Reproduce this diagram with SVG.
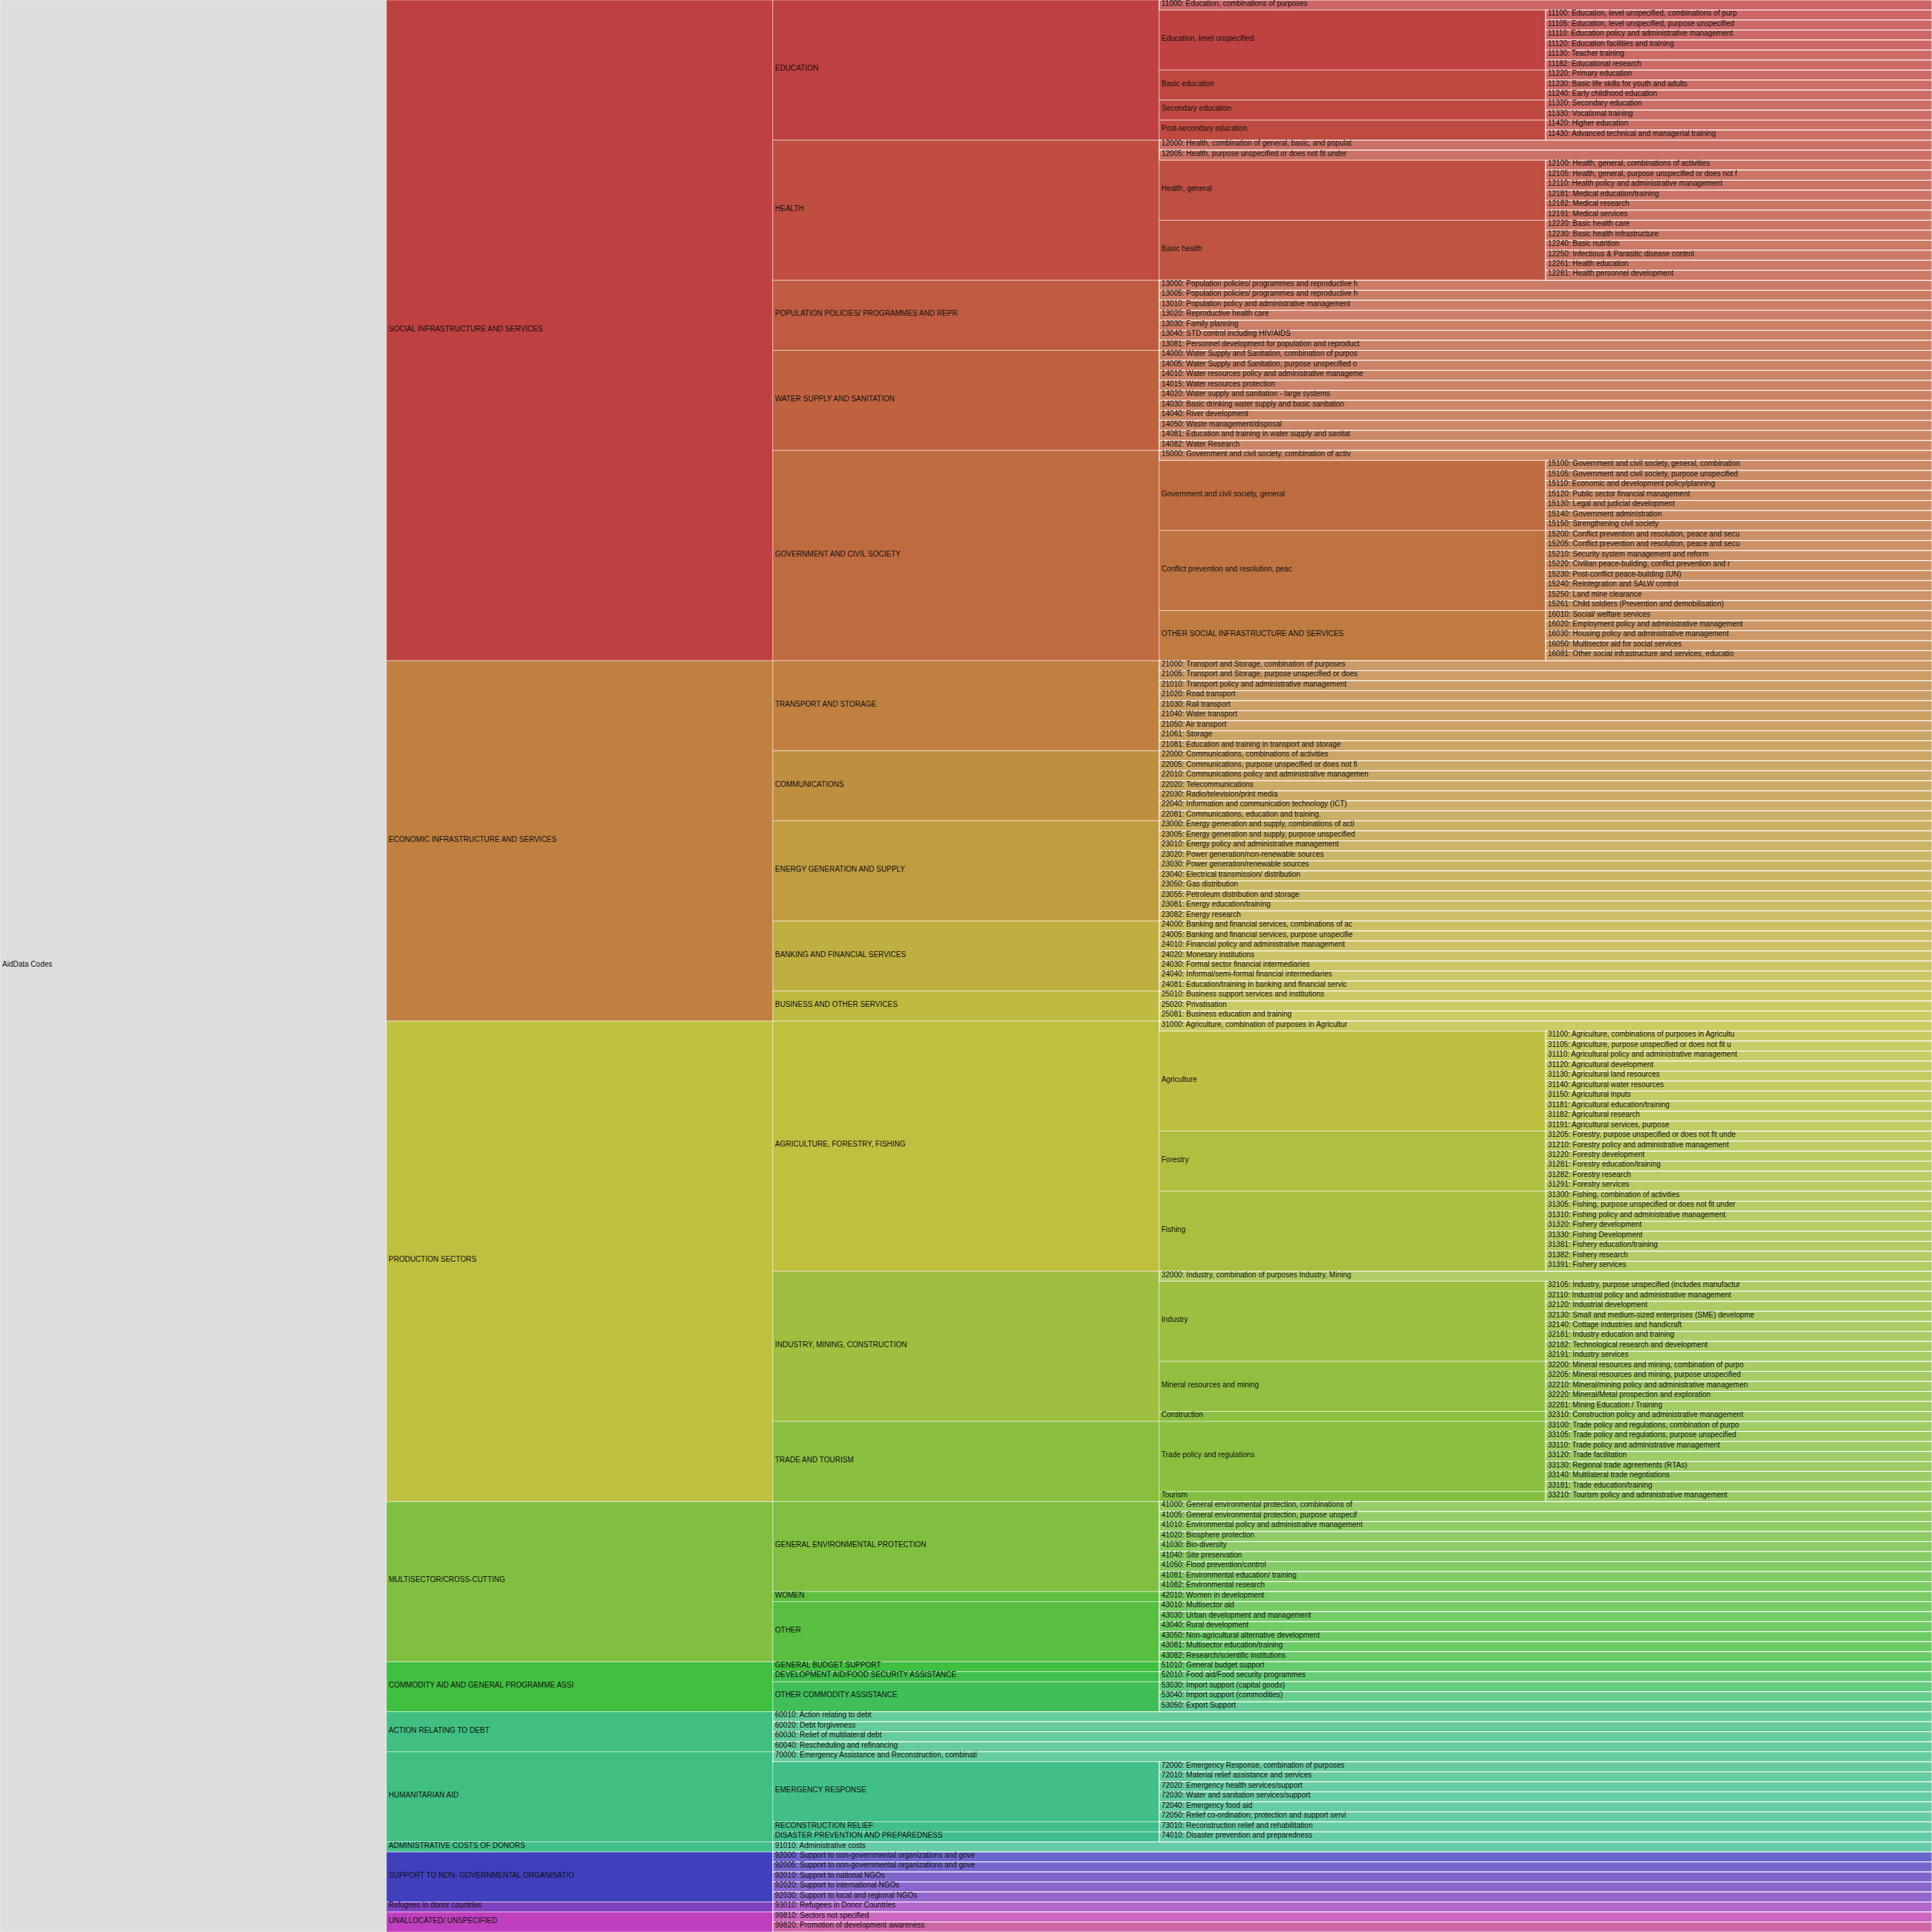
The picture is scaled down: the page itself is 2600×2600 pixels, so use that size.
<svg xmlns="http://www.w3.org/2000/svg" width="2600" height="2600" viewBox="0 0 2600 2600">
<style>
text{font-family:"Liberation Sans",Arial,sans-serif;font-size:10px;fill:#111}
.n>rect{stroke:rgba(255,255,255,0.5);stroke-width:1}
.l>rect{stroke:#fff;stroke-width:1}
</style>
<rect width="2600" height="2600" fill="#fff"/>
<g id="col0">
<g id="root" class="n"><rect width="520" height="2600" fill="#dddddd"/><text x="3" y="1301">AidData Codes</text></g>
</g>
<g id="col1">
<g id="c-social" class="n" transform="translate(520,0)"><rect width="520" height="889.12" fill="hsl(0,50%,50%)"/><text x="3" y="445.56">SOCIAL INFRASTRUCTURE AND SERVICES</text></g>
<g id="c-economic" class="n" transform="translate(520,889.12)"><rect width="520" height="484.97" fill="hsl(30,50%,50%)"/><text x="3" y="243.49">ECONOMIC INFRASTRUCTURE AND SERVICES</text></g>
<g id="c-production" class="n" transform="translate(520,1374.09)"><rect width="520" height="646.63" fill="hsl(60,50%,50%)"/><text x="3" y="324.32">PRODUCTION SECTORS</text></g>
<g id="c-multisector" class="n" transform="translate(520,2020.73)"><rect width="520" height="215.54" fill="hsl(90,50%,50%)"/><text x="3" y="108.77">MULTISECTOR/CROSS-CUTTING</text></g>
<g id="c-commodity" class="n" transform="translate(520,2236.27)"><rect width="520" height="67.36" fill="hsl(120,50%,50%)"/><text x="3" y="34.68">COMMODITY AID AND GENERAL PROGRAMME ASSI</text></g>
<g id="c-debt" class="n" transform="translate(520,2303.63)"><rect width="520" height="53.89" fill="hsl(150,50%,50%)"/><text x="3" y="27.94">ACTION RELATING TO DEBT</text></g>
<g id="c-humanitarian" class="n" transform="translate(520,2357.51)"><rect width="520" height="121.24" fill="hsl(151,50%,50%)"/><text x="3" y="61.62">HUMANITARIAN AID</text></g>
<g id="c-admin" class="n" transform="translate(520,2478.76)"><rect width="520" height="13.47" fill="hsl(155,50%,50%)"/><text x="3" y="7.74">ADMINISTRATIVE COSTS OF DONORS</text></g>
<g id="c-ngo" class="n" transform="translate(520,2492.23)"><rect width="520" height="67.36" fill="hsl(240,50%,50%)"/><text x="3" y="34.68">SUPPORT TO NON- GOVERNMENTAL ORGANISATIO</text></g>
<g id="c-refugees" class="n" transform="translate(520,2559.59)"><rect width="520" height="13.47" fill="hsl(270,50%,50%)"/><text x="3" y="7.74">Refugees in donor countries</text></g>
<g id="c-unallocated" class="n" transform="translate(520,2573.06)"><rect width="520" height="26.94" fill="hsl(300,50%,50%)"/><text x="3" y="14.47">UNALLOCATED/ UNSPECIFIED</text></g>
</g>
<g id="col2">
<g id="s-education" class="n" transform="translate(1040,0)"><rect width="520" height="188.6" fill="hsl(0,50%,50%)"/><text x="3" y="95.3">EDUCATION</text></g>
<g id="s-health" class="n" transform="translate(1040,188.6)"><rect width="520" height="188.6" fill="hsl(6.4,50%,50%)"/><text x="3" y="95.3">HEALTH</text></g>
<g id="s-population" class="n" transform="translate(1040,377.2)"><rect width="520" height="94.3" fill="hsl(12.7,50%,50%)"/><text x="3" y="48.15">POPULATION POLICIES/ PROGRAMMES AND REPR</text></g>
<g id="s-water" class="n" transform="translate(1040,471.5)"><rect width="520" height="134.72" fill="hsl(15.9,50%,50%)"/><text x="3" y="68.36">WATER SUPPLY AND SANITATION</text></g>
<g id="s-government" class="n" transform="translate(1040,606.22)"><rect width="520" height="282.9" fill="hsl(20.5,50%,50%)"/><text x="3" y="142.45">GOVERNMENT AND CIVIL SOCIETY</text></g>
<g id="s-transport" class="n" transform="translate(1040,889.12)"><rect width="520" height="121.24" fill="hsl(30,50%,50%)"/><text x="3" y="61.62">TRANSPORT AND STORAGE</text></g>
<g id="s-communications" class="n" transform="translate(1040,1010.36)"><rect width="520" height="94.3" fill="hsl(37.5,50%,50%)"/><text x="3" y="48.15">COMMUNICATIONS</text></g>
<g id="s-energy" class="n" transform="translate(1040,1104.66)"><rect width="520" height="134.72" fill="hsl(43.3,50%,50%)"/><text x="3" y="68.36">ENERGY GENERATION AND SUPPLY</text></g>
<g id="s-banking" class="n" transform="translate(1040,1239.38)"><rect width="520" height="94.3" fill="hsl(51.7,50%,50%)"/><text x="3" y="48.15">BANKING AND FINANCIAL SERVICES</text></g>
<g id="s-business" class="n" transform="translate(1040,1333.68)"><rect width="520" height="40.41" fill="hsl(57.5,50%,50%)"/><text x="3" y="21.21">BUSINESS AND OTHER SERVICES</text></g>
<g id="s-agriculture" class="n" transform="translate(1040,1374.09)"><rect width="520" height="336.79" fill="hsl(60,50%,50%)"/><text x="3" y="169.39">AGRICULTURE, FORESTRY, FISHING</text></g>
<g id="s-industry" class="n" transform="translate(1040,1710.88)"><rect width="520" height="202.07" fill="hsl(75.6,50%,50%)"/><text x="3" y="102.04">INDUSTRY, MINING, CONSTRUCTION</text></g>
<g id="s-trade" class="n" transform="translate(1040,1912.95)"><rect width="520" height="107.77" fill="hsl(85,50%,50%)"/><text x="3" y="54.89">TRADE AND TOURISM</text></g>
<g id="s-environment" class="n" transform="translate(1040,2020.73)"><rect width="520" height="121.24" fill="hsl(90,50%,50%)"/><text x="3" y="61.62">GENERAL ENVIRONMENTAL PROTECTION</text></g>
<g id="s-women" class="n" transform="translate(1040,2141.97)"><rect width="520" height="13.47" fill="hsl(106.9,50%,50%)"/><text x="3" y="7.74">WOMEN</text></g>
<g id="s-other" class="n" transform="translate(1040,2155.44)"><rect width="520" height="80.83" fill="hsl(108.75,50%,50%)"/><text x="3" y="41.41">OTHER</text></g>
<g id="s-budget" class="n" transform="translate(1040,2236.27)"><rect width="520" height="13.47" fill="hsl(120,50%,50%)"/><text x="3" y="7.74">GENERAL BUDGET SUPPORT</text></g>
<g id="s-foodaid" class="n" transform="translate(1040,2249.74)"><rect width="520" height="13.47" fill="hsl(126,50%,50%)"/><text x="3" y="7.74">DEVELOPMENT AID/FOOD SECURITY ASSISTANCE</text></g>
<g id="s-othercommodity" class="n" transform="translate(1040,2263.21)"><rect width="520" height="40.41" fill="hsl(132,50%,50%)"/><text x="3" y="21.21">OTHER COMMODITY ASSISTANCE</text></g>
<g id="l60010" class="l" transform="translate(1040,2303.63)"><rect width="1560" height="13.47" fill="hsl(150,50%,60%)"/><text x="3" y="7.74">60010: Action relating to debt</text></g>
<g id="l60020" class="l" transform="translate(1040,2317.1)"><rect width="1560" height="13.47" fill="hsl(150.8,50%,60%)"/><text x="3" y="7.74">60020: Debt forgiveness</text></g>
<g id="l60030" class="l" transform="translate(1040,2330.57)"><rect width="1560" height="13.47" fill="hsl(151.5,50%,60%)"/><text x="3" y="7.74">60030: Relief of multilateral debt</text></g>
<g id="l60040" class="l" transform="translate(1040,2344.04)"><rect width="1560" height="13.47" fill="hsl(152.2,50%,60%)"/><text x="3" y="7.74">60040: Rescheduling and refinancing</text></g>
<g id="l70000" class="l" transform="translate(1040,2357.51)"><rect width="1560" height="13.47" fill="hsl(153,50%,60%)"/><text x="3" y="7.74">70000: Emergency Assistance and Reconstruction, combinati</text></g>
<g id="s-emergency" class="n" transform="translate(1040,2370.98)"><rect width="520" height="80.83" fill="hsl(153,50%,50%)"/><text x="3" y="41.41">EMERGENCY RESPONSE</text></g>
<g id="s-reconstruction" class="n" transform="translate(1040,2451.81)"><rect width="520" height="13.47" fill="hsl(155,50%,50%)"/><text x="3" y="7.74">RECONSTRUCTION RELIEF</text></g>
<g id="s-disaster" class="n" transform="translate(1040,2465.28)"><rect width="520" height="13.47" fill="hsl(156,50%,50%)"/><text x="3" y="7.74">DISASTER PREVENTION AND PREPAREDNESS</text></g>
<g id="l91010" class="l" transform="translate(1040,2478.76)"><rect width="1560" height="13.47" fill="hsl(158,50%,60%)"/><text x="3" y="7.74">91010: Administrative costs</text></g>
<g id="l92000" class="l" transform="translate(1040,2492.23)"><rect width="1560" height="13.47" fill="hsl(243,50%,60%)"/><text x="3" y="7.74">92000: Support to non-governmental organizations and gove</text></g>
<g id="l92005" class="l" transform="translate(1040,2505.7)"><rect width="1560" height="13.47" fill="hsl(249,50%,60%)"/><text x="3" y="7.74">92005: Support to non-governmental organizations and gove</text></g>
<g id="l92010" class="l" transform="translate(1040,2519.17)"><rect width="1560" height="13.47" fill="hsl(255,50%,60%)"/><text x="3" y="7.74">92010: Support to national NGOs</text></g>
<g id="l92020" class="l" transform="translate(1040,2532.64)"><rect width="1560" height="13.47" fill="hsl(261,50%,60%)"/><text x="3" y="7.74">92020: Support to international NGOs</text></g>
<g id="l92030" class="l" transform="translate(1040,2546.11)"><rect width="1560" height="13.47" fill="hsl(267,50%,60%)"/><text x="3" y="7.74">92030: Support to local and regional NGOs</text></g>
<g id="l93010" class="l" transform="translate(1040,2559.59)"><rect width="1560" height="13.47" fill="hsl(285,50%,60%)"/><text x="3" y="7.74">93010: Refugees in Donor Countries</text></g>
<g id="l99810" class="l" transform="translate(1040,2573.06)"><rect width="1560" height="13.47" fill="hsl(307.5,50%,60%)"/><text x="3" y="7.74">99810: Sectors not specified</text></g>
<g id="l99820" class="l" transform="translate(1040,2586.53)"><rect width="1560" height="13.47" fill="hsl(322.5,50%,60%)"/><text x="3" y="7.74">99820: Promotion of development awareness</text></g>
</g>
<g id="col3">
<g id="l11000" class="l" transform="translate(1560,0)"><rect width="1040" height="13.47" fill="hsl(0.2,50%,60%)"/><text x="3" y="7.74">11000: Education, combinations of purposes</text></g>
<g id="t-edu-unspec" class="n" transform="translate(1560,13.47)"><rect width="520" height="80.83" fill="hsl(0.45,50%,50%)"/><text x="3" y="41.41">Education, level unspecified</text></g>
<g id="t-edu-basic" class="n" transform="translate(1560,94.3)"><rect width="520" height="40.41" fill="hsl(3.2,50%,50%)"/><text x="3" y="21.21">Basic education</text></g>
<g id="t-edu-secondary" class="n" transform="translate(1560,134.72)"><rect width="520" height="26.94" fill="hsl(4.5,50%,50%)"/><text x="3" y="14.47">Secondary education</text></g>
<g id="t-edu-post" class="n" transform="translate(1560,161.66)"><rect width="520" height="26.94" fill="hsl(5.45,50%,50%)"/><text x="3" y="14.47">Post-secondary education</text></g>
<g id="l12000" class="l" transform="translate(1560,188.6)"><rect width="1040" height="13.47" fill="hsl(6.6,50%,60%)"/><text x="3" y="7.74">12000: Health, combination of general, basic, and populat</text></g>
<g id="l12005" class="l" transform="translate(1560,202.07)"><rect width="1040" height="13.47" fill="hsl(7,50%,60%)"/><text x="3" y="7.74">12005: Health, purpose unspecified or does not fit under</text></g>
<g id="t-health-general" class="n" transform="translate(1560,215.54)"><rect width="520" height="80.83" fill="hsl(7.3,50%,50%)"/><text x="3" y="41.41">Health, general</text></g>
<g id="t-health-basic" class="n" transform="translate(1560,296.37)"><rect width="520" height="80.83" fill="hsl(10,50%,50%)"/><text x="3" y="41.41">Basic health</text></g>
<g id="l13000" class="l" transform="translate(1560,377.2)"><rect width="1040" height="13.47" fill="hsl(12.95,50%,60%)"/><text x="3" y="7.74">13000: Population policies/ programmes and reproductive h</text></g>
<g id="l13005" class="l" transform="translate(1560,390.67)"><rect width="1040" height="13.47" fill="hsl(13.4,50%,60%)"/><text x="3" y="7.74">13005: Population policies/ programmes and reproductive h</text></g>
<g id="l13010" class="l" transform="translate(1560,404.15)"><rect width="1040" height="13.47" fill="hsl(13.9,50%,60%)"/><text x="3" y="7.74">13010: Population policy and administrative management</text></g>
<g id="l13020" class="l" transform="translate(1560,417.62)"><rect width="1040" height="13.47" fill="hsl(14.3,50%,60%)"/><text x="3" y="7.74">13020: Reproductive health care</text></g>
<g id="l13030" class="l" transform="translate(1560,431.09)"><rect width="1040" height="13.47" fill="hsl(14.8,50%,60%)"/><text x="3" y="7.74">13030: Family planning</text></g>
<g id="l13040" class="l" transform="translate(1560,444.56)"><rect width="1040" height="13.47" fill="hsl(15.2,50%,60%)"/><text x="3" y="7.74">13040: STD control including HIV/AIDS</text></g>
<g id="l13081" class="l" transform="translate(1560,458.03)"><rect width="1040" height="13.47" fill="hsl(15.7,50%,60%)"/><text x="3" y="7.74">13081: Personnel development for population and reproduct</text></g>
<g id="l14000" class="l" transform="translate(1560,471.5)"><rect width="1040" height="13.47" fill="hsl(16.1,50%,60%)"/><text x="3" y="7.74">14000: Water Supply and Sanitation, combination of purpos</text></g>
<g id="l14005" class="l" transform="translate(1560,484.97)"><rect width="1040" height="13.47" fill="hsl(16.6,50%,60%)"/><text x="3" y="7.74">14005: Water Supply and Sanitation, purpose unspecified o</text></g>
<g id="l14010" class="l" transform="translate(1560,498.45)"><rect width="1040" height="13.47" fill="hsl(17,50%,60%)"/><text x="3" y="7.74">14010: Water resources policy and administrative manageme</text></g>
<g id="l14015" class="l" transform="translate(1560,511.92)"><rect width="1040" height="13.47" fill="hsl(17.5,50%,60%)"/><text x="3" y="7.74">14015: Water resources protection</text></g>
<g id="l14020" class="l" transform="translate(1560,525.39)"><rect width="1040" height="13.47" fill="hsl(17.95,50%,60%)"/><text x="3" y="7.74">14020: Water supply and sanitation - large systems</text></g>
<g id="l14030" class="l" transform="translate(1560,538.86)"><rect width="1040" height="13.47" fill="hsl(18.4,50%,60%)"/><text x="3" y="7.74">14030: Basic drinking water supply and basic sanitation</text></g>
<g id="l14040" class="l" transform="translate(1560,552.33)"><rect width="1040" height="13.47" fill="hsl(18.9,50%,60%)"/><text x="3" y="7.74">14040: River development</text></g>
<g id="l14050" class="l" transform="translate(1560,565.8)"><rect width="1040" height="13.47" fill="hsl(19.3,50%,60%)"/><text x="3" y="7.74">14050: Waste management/disposal</text></g>
<g id="l14081" class="l" transform="translate(1560,579.27)"><rect width="1040" height="13.47" fill="hsl(19.8,50%,60%)"/><text x="3" y="7.74">14081: Education and training in water supply and sanitat</text></g>
<g id="l14082" class="l" transform="translate(1560,592.75)"><rect width="1040" height="13.47" fill="hsl(20.2,50%,60%)"/><text x="3" y="7.74">14082: Water Research</text></g>
<g id="l15000" class="l" transform="translate(1560,606.22)"><rect width="1040" height="13.47" fill="hsl(20.7,50%,60%)"/><text x="3" y="7.74">15000: Government and civil society, combination of activ</text></g>
<g id="t-gov-general" class="n" transform="translate(1560,619.69)"><rect width="520" height="94.3" fill="hsl(20.9,50%,50%)"/><text x="3" y="48.15">Government and civil society, general</text></g>
<g id="t-conflict" class="n" transform="translate(1560,713.99)"><rect width="520" height="107.77" fill="hsl(24.1,50%,50%)"/><text x="3" y="54.89">Conflict prevention and resolution, peac</text></g>
<g id="t-other-social" class="n" transform="translate(1560,821.76)"><rect width="520" height="67.36" fill="hsl(27.7,50%,50%)"/><text x="3" y="34.68">OTHER SOCIAL INFRASTRUCTURE AND SERVICES</text></g>
<g id="l21000" class="l" transform="translate(1560,889.12)"><rect width="1040" height="13.47" fill="hsl(30.4,50%,60%)"/><text x="3" y="7.74">21000: Transport and Storage, combination of purposes</text></g>
<g id="l21005" class="l" transform="translate(1560,902.59)"><rect width="1040" height="13.47" fill="hsl(31.25,50%,60%)"/><text x="3" y="7.74">21005: Transport and Storage, purpose unspecified or does</text></g>
<g id="l21010" class="l" transform="translate(1560,916.06)"><rect width="1040" height="13.47" fill="hsl(32.1,50%,60%)"/><text x="3" y="7.74">21010: Transport policy and administrative management</text></g>
<g id="l21020" class="l" transform="translate(1560,929.53)"><rect width="1040" height="13.47" fill="hsl(32.9,50%,60%)"/><text x="3" y="7.74">21020: Road transport</text></g>
<g id="l21030" class="l" transform="translate(1560,943.01)"><rect width="1040" height="13.47" fill="hsl(33.75,50%,60%)"/><text x="3" y="7.74">21030: Rail transport</text></g>
<g id="l21040" class="l" transform="translate(1560,956.48)"><rect width="1040" height="13.47" fill="hsl(34.6,50%,60%)"/><text x="3" y="7.74">21040: Water transport</text></g>
<g id="l21050" class="l" transform="translate(1560,969.95)"><rect width="1040" height="13.47" fill="hsl(35.4,50%,60%)"/><text x="3" y="7.74">21050: Air transport</text></g>
<g id="l21061" class="l" transform="translate(1560,983.42)"><rect width="1040" height="13.47" fill="hsl(36.25,50%,60%)"/><text x="3" y="7.74">21061: Storage</text></g>
<g id="l21081" class="l" transform="translate(1560,996.89)"><rect width="1040" height="13.47" fill="hsl(37.1,50%,60%)"/><text x="3" y="7.74">21081: Education and training in transport and storage</text></g>
<g id="l22000" class="l" transform="translate(1560,1010.36)"><rect width="1040" height="13.47" fill="hsl(37.9,50%,60%)"/><text x="3" y="7.74">22000: Communications, combinations of activities</text></g>
<g id="l22005" class="l" transform="translate(1560,1023.83)"><rect width="1040" height="13.47" fill="hsl(38.75,50%,60%)"/><text x="3" y="7.74">22005: Communications, purpose unspecified or does not fi</text></g>
<g id="l22010" class="l" transform="translate(1560,1037.31)"><rect width="1040" height="13.47" fill="hsl(39.6,50%,60%)"/><text x="3" y="7.74">22010: Communications policy and administrative managemen</text></g>
<g id="l22020" class="l" transform="translate(1560,1050.78)"><rect width="1040" height="13.47" fill="hsl(40.4,50%,60%)"/><text x="3" y="7.74">22020: Telecommunications</text></g>
<g id="l22030" class="l" transform="translate(1560,1064.25)"><rect width="1040" height="13.47" fill="hsl(41.25,50%,60%)"/><text x="3" y="7.74">22030: Radio/television/print media</text></g>
<g id="l22040" class="l" transform="translate(1560,1077.72)"><rect width="1040" height="13.47" fill="hsl(42.1,50%,60%)"/><text x="3" y="7.74">22040: Information and communication technology (ICT)</text></g>
<g id="l22081" class="l" transform="translate(1560,1091.19)"><rect width="1040" height="13.47" fill="hsl(42.9,50%,60%)"/><text x="3" y="7.74">22081: Communications, education and training.</text></g>
<g id="l23000" class="l" transform="translate(1560,1104.66)"><rect width="1040" height="13.47" fill="hsl(43.75,50%,60%)"/><text x="3" y="7.74">23000: Energy generation and supply, combinations of acti</text></g>
<g id="l23005" class="l" transform="translate(1560,1118.13)"><rect width="1040" height="13.47" fill="hsl(44.6,50%,60%)"/><text x="3" y="7.74">23005: Energy generation and supply, purpose unspecified</text></g>
<g id="l23010" class="l" transform="translate(1560,1131.61)"><rect width="1040" height="13.47" fill="hsl(45.4,50%,60%)"/><text x="3" y="7.74">23010: Energy policy and administrative management</text></g>
<g id="l23020" class="l" transform="translate(1560,1145.08)"><rect width="1040" height="13.47" fill="hsl(46.25,50%,60%)"/><text x="3" y="7.74">23020: Power generation/non-renewable sources</text></g>
<g id="l23030" class="l" transform="translate(1560,1158.55)"><rect width="1040" height="13.47" fill="hsl(47.1,50%,60%)"/><text x="3" y="7.74">23030: Power generation/renewable sources</text></g>
<g id="l23040" class="l" transform="translate(1560,1172.02)"><rect width="1040" height="13.47" fill="hsl(47.9,50%,60%)"/><text x="3" y="7.74">23040: Electrical transmission/ distribution</text></g>
<g id="l23050" class="l" transform="translate(1560,1185.49)"><rect width="1040" height="13.47" fill="hsl(48.75,50%,60%)"/><text x="3" y="7.74">23050: Gas distribution</text></g>
<g id="l23055" class="l" transform="translate(1560,1198.96)"><rect width="1040" height="13.47" fill="hsl(49.6,50%,60%)"/><text x="3" y="7.74">23055: Petroleum distribution and storage</text></g>
<g id="l23081" class="l" transform="translate(1560,1212.44)"><rect width="1040" height="13.47" fill="hsl(50.4,50%,60%)"/><text x="3" y="7.74">23081: Energy education/training</text></g>
<g id="l23082" class="l" transform="translate(1560,1225.91)"><rect width="1040" height="13.47" fill="hsl(51.25,50%,60%)"/><text x="3" y="7.74">23082: Energy research</text></g>
<g id="l24000" class="l" transform="translate(1560,1239.38)"><rect width="1040" height="13.47" fill="hsl(52.1,50%,60%)"/><text x="3" y="7.74">24000: Banking and financial services, combinations of ac</text></g>
<g id="l24005" class="l" transform="translate(1560,1252.85)"><rect width="1040" height="13.47" fill="hsl(52.9,50%,60%)"/><text x="3" y="7.74">24005: Banking and financial services, purpose unspecifie</text></g>
<g id="l24010" class="l" transform="translate(1560,1266.32)"><rect width="1040" height="13.47" fill="hsl(53.75,50%,60%)"/><text x="3" y="7.74">24010: Financial policy and administrative management</text></g>
<g id="l24020" class="l" transform="translate(1560,1279.79)"><rect width="1040" height="13.47" fill="hsl(54.6,50%,60%)"/><text x="3" y="7.74">24020: Monetary institutions</text></g>
<g id="l24030" class="l" transform="translate(1560,1293.26)"><rect width="1040" height="13.47" fill="hsl(55.4,50%,60%)"/><text x="3" y="7.74">24030: Formal sector financial intermediaries</text></g>
<g id="l24040" class="l" transform="translate(1560,1306.74)"><rect width="1040" height="13.47" fill="hsl(56.25,50%,60%)"/><text x="3" y="7.74">24040: Informal/semi-formal financial intermediaries</text></g>
<g id="l24081" class="l" transform="translate(1560,1320.21)"><rect width="1040" height="13.47" fill="hsl(57.1,50%,60%)"/><text x="3" y="7.74">24081: Education/training in banking and financial servic</text></g>
<g id="l25010" class="l" transform="translate(1560,1333.68)"><rect width="1040" height="13.47" fill="hsl(57.9,50%,60%)"/><text x="3" y="7.74">25010: Business support services and institutions</text></g>
<g id="l25020" class="l" transform="translate(1560,1347.15)"><rect width="1040" height="13.47" fill="hsl(58.75,50%,60%)"/><text x="3" y="7.74">25020: Privatisation</text></g>
<g id="l25081" class="l" transform="translate(1560,1360.62)"><rect width="1040" height="13.47" fill="hsl(59.6,50%,60%)"/><text x="3" y="7.74">25081: Business education and training</text></g>
<g id="l31000" class="l" transform="translate(1560,1374.09)"><rect width="1040" height="13.47" fill="hsl(60.3,50%,60%)"/><text x="3" y="7.74">31000: Agriculture, combination of purposes in Agricultur</text></g>
<g id="t-agriculture" class="n" transform="translate(1560,1387.56)"><rect width="520" height="134.72" fill="hsl(60.6,50%,50%)"/><text x="3" y="68.36">Agriculture</text></g>
<g id="t-forestry" class="n" transform="translate(1560,1522.28)"><rect width="520" height="80.83" fill="hsl(66.9,50%,50%)"/><text x="3" y="41.41">Forestry</text></g>
<g id="t-fishing" class="n" transform="translate(1560,1603.11)"><rect width="520" height="107.77" fill="hsl(70.6,50%,50%)"/><text x="3" y="54.89">Fishing</text></g>
<g id="l32000" class="l" transform="translate(1560,1710.88)"><rect width="1040" height="13.47" fill="hsl(75.9,50%,60%)"/><text x="3" y="7.74">32000: Industry, combination of purposes Industry, Mining</text></g>
<g id="t-industry" class="n" transform="translate(1560,1724.35)"><rect width="520" height="107.77" fill="hsl(76.25,50%,50%)"/><text x="3" y="54.89">Industry</text></g>
<g id="t-mineral" class="n" transform="translate(1560,1832.12)"><rect width="520" height="67.36" fill="hsl(81.25,50%,50%)"/><text x="3" y="34.68">Mineral resources and mining</text></g>
<g id="t-construction" class="n" transform="translate(1560,1899.48)"><rect width="520" height="13.47" fill="hsl(84.4,50%,50%)"/><text x="3" y="7.74">Construction</text></g>
<g id="t-trade-policy" class="n" transform="translate(1560,1912.95)"><rect width="520" height="94.3" fill="hsl(85,50%,50%)"/><text x="3" y="48.15">Trade policy and regulations</text></g>
<g id="t-tourism" class="n" transform="translate(1560,2007.25)"><rect width="520" height="13.47" fill="hsl(88.75,50%,50%)"/><text x="3" y="7.74">Tourism</text></g>
<g id="l41000" class="l" transform="translate(1560,2020.73)"><rect width="1040" height="13.47" fill="hsl(90.9,50%,60%)"/><text x="3" y="7.74">41000: General environmental protection, combinations of</text></g>
<g id="l41005" class="l" transform="translate(1560,2034.2)"><rect width="1040" height="13.47" fill="hsl(92.8,50%,60%)"/><text x="3" y="7.74">41005: General environmental protection, purpose unspecif</text></g>
<g id="l41010" class="l" transform="translate(1560,2047.67)"><rect width="1040" height="13.47" fill="hsl(94.7,50%,60%)"/><text x="3" y="7.74">41010: Environmental policy and administrative management</text></g>
<g id="l41020" class="l" transform="translate(1560,2061.14)"><rect width="1040" height="13.47" fill="hsl(96.6,50%,60%)"/><text x="3" y="7.74">41020: Biosphere protection</text></g>
<g id="l41030" class="l" transform="translate(1560,2074.61)"><rect width="1040" height="13.47" fill="hsl(98.4,50%,60%)"/><text x="3" y="7.74">41030: Bio-diversity</text></g>
<g id="l41040" class="l" transform="translate(1560,2088.08)"><rect width="1040" height="13.47" fill="hsl(100.3,50%,60%)"/><text x="3" y="7.74">41040: Site preservation</text></g>
<g id="l41050" class="l" transform="translate(1560,2101.55)"><rect width="1040" height="13.47" fill="hsl(102.2,50%,60%)"/><text x="3" y="7.74">41050: Flood prevention/control</text></g>
<g id="l41081" class="l" transform="translate(1560,2115.03)"><rect width="1040" height="13.47" fill="hsl(104.1,50%,60%)"/><text x="3" y="7.74">41081: Environmental education/ training</text></g>
<g id="l41082" class="l" transform="translate(1560,2128.5)"><rect width="1040" height="13.47" fill="hsl(105.9,50%,60%)"/><text x="3" y="7.74">41082: Environmental research</text></g>
<g id="l42010" class="l" transform="translate(1560,2141.97)"><rect width="1040" height="13.47" fill="hsl(107.8,50%,60%)"/><text x="3" y="7.74">42010: Women in development</text></g>
<g id="l43010" class="l" transform="translate(1560,2155.44)"><rect width="1040" height="13.47" fill="hsl(109.7,50%,60%)"/><text x="3" y="7.74">43010: Multisector aid</text></g>
<g id="l43030" class="l" transform="translate(1560,2168.91)"><rect width="1040" height="13.47" fill="hsl(111.6,50%,60%)"/><text x="3" y="7.74">43030: Urban development and management</text></g>
<g id="l43040" class="l" transform="translate(1560,2182.38)"><rect width="1040" height="13.47" fill="hsl(113.4,50%,60%)"/><text x="3" y="7.74">43040: Rural development</text></g>
<g id="l43050" class="l" transform="translate(1560,2195.85)"><rect width="1040" height="13.47" fill="hsl(115.3,50%,60%)"/><text x="3" y="7.74">43050: Non-agricultural alternative development</text></g>
<g id="l43081" class="l" transform="translate(1560,2209.33)"><rect width="1040" height="13.47" fill="hsl(117.2,50%,60%)"/><text x="3" y="7.74">43081: Multisector education/training</text></g>
<g id="l43082" class="l" transform="translate(1560,2222.8)"><rect width="1040" height="13.47" fill="hsl(119.1,50%,60%)"/><text x="3" y="7.74">43082: Research/scientific institutions</text></g>
<g id="l51010" class="l" transform="translate(1560,2236.27)"><rect width="1040" height="13.47" fill="hsl(123,50%,60%)"/><text x="3" y="7.74">51010: General budget support</text></g>
<g id="l52010" class="l" transform="translate(1560,2249.74)"><rect width="1040" height="13.47" fill="hsl(129,50%,60%)"/><text x="3" y="7.74">52010: Food aid/Food security programmes</text></g>
<g id="l53030" class="l" transform="translate(1560,2263.21)"><rect width="1040" height="13.47" fill="hsl(135,50%,60%)"/><text x="3" y="7.74">53030: Import support (capital goods)</text></g>
<g id="l53040" class="l" transform="translate(1560,2276.68)"><rect width="1040" height="13.47" fill="hsl(141,50%,60%)"/><text x="3" y="7.74">53040: Import support (commodities)</text></g>
<g id="l53050" class="l" transform="translate(1560,2290.16)"><rect width="1040" height="13.47" fill="hsl(147,50%,60%)"/><text x="3" y="7.74">53050: Export Support</text></g>
<g id="l72000" class="l" transform="translate(1560,2370.98)"><rect width="1040" height="13.47" fill="hsl(153.5,50%,60%)"/><text x="3" y="7.74">72000: Emergency Response, combination of purposes</text></g>
<g id="l72010" class="l" transform="translate(1560,2384.46)"><rect width="1040" height="13.47" fill="hsl(154,50%,60%)"/><text x="3" y="7.74">72010: Material relief assistance and services</text></g>
<g id="l72020" class="l" transform="translate(1560,2397.93)"><rect width="1040" height="13.47" fill="hsl(154.5,50%,60%)"/><text x="3" y="7.74">72020: Emergency health services/support</text></g>
<g id="l72030" class="l" transform="translate(1560,2411.4)"><rect width="1040" height="13.47" fill="hsl(155,50%,60%)"/><text x="3" y="7.74">72030: Water and sanitation services/support</text></g>
<g id="l72040" class="l" transform="translate(1560,2424.87)"><rect width="1040" height="13.47" fill="hsl(155.5,50%,60%)"/><text x="3" y="7.74">72040: Emergency food aid</text></g>
<g id="l72050" class="l" transform="translate(1560,2438.34)"><rect width="1040" height="13.47" fill="hsl(156,50%,60%)"/><text x="3" y="7.74">72050: Relief co-ordination; protection and support servi</text></g>
<g id="l73010" class="l" transform="translate(1560,2451.81)"><rect width="1040" height="13.47" fill="hsl(156.5,50%,60%)"/><text x="3" y="7.74">73010: Reconstruction relief and rehabilitation</text></g>
<g id="l74010" class="l" transform="translate(1560,2465.28)"><rect width="1040" height="13.47" fill="hsl(157,50%,60%)"/><text x="3" y="7.74">74010: Disaster prevention and preparedness</text></g>
</g>
<g id="col4">
<g id="l11100" class="l" transform="translate(2080,13.47)"><rect width="520" height="13.47" fill="hsl(0.7,50%,60%)"/><text x="3" y="7.74">11100: Education, level unspecified, combinations of purp</text></g>
<g id="l11105" class="l" transform="translate(2080,26.94)"><rect width="520" height="13.47" fill="hsl(1.1,50%,60%)"/><text x="3" y="7.74">11105: Education, level unspecified, purpose unspecified</text></g>
<g id="l11110" class="l" transform="translate(2080,40.41)"><rect width="520" height="13.47" fill="hsl(1.6,50%,60%)"/><text x="3" y="7.74">11110: Education policy and administrative management</text></g>
<g id="l11120" class="l" transform="translate(2080,53.89)"><rect width="520" height="13.47" fill="hsl(2,50%,60%)"/><text x="3" y="7.74">11120: Education facilities and training</text></g>
<g id="l11130" class="l" transform="translate(2080,67.36)"><rect width="520" height="13.47" fill="hsl(2.5,50%,60%)"/><text x="3" y="7.74">11130: Teacher training</text></g>
<g id="l11182" class="l" transform="translate(2080,80.83)"><rect width="520" height="13.47" fill="hsl(3,50%,60%)"/><text x="3" y="7.74">11182: Educational research</text></g>
<g id="l11220" class="l" transform="translate(2080,94.3)"><rect width="520" height="13.47" fill="hsl(3.4,50%,60%)"/><text x="3" y="7.74">11220: Primary education</text></g>
<g id="l11230" class="l" transform="translate(2080,107.77)"><rect width="520" height="13.47" fill="hsl(3.9,50%,60%)"/><text x="3" y="7.74">11230: Basic life skills for youth and adults</text></g>
<g id="l11240" class="l" transform="translate(2080,121.24)"><rect width="520" height="13.47" fill="hsl(4.3,50%,60%)"/><text x="3" y="7.74">11240: Early childhood education</text></g>
<g id="l11320" class="l" transform="translate(2080,134.72)"><rect width="520" height="13.47" fill="hsl(4.8,50%,60%)"/><text x="3" y="7.74">11320: Secondary education</text></g>
<g id="l11330" class="l" transform="translate(2080,148.19)"><rect width="520" height="13.47" fill="hsl(5.2,50%,60%)"/><text x="3" y="7.74">11330: Vocational training</text></g>
<g id="l11420" class="l" transform="translate(2080,161.66)"><rect width="520" height="13.47" fill="hsl(5.7,50%,60%)"/><text x="3" y="7.74">11420: Higher education</text></g>
<g id="l11430" class="l" transform="translate(2080,175.13)"><rect width="520" height="13.47" fill="hsl(6.1,50%,60%)"/><text x="3" y="7.74">11430: Advanced technical and managerial training</text></g>
<g id="l12100" class="l" transform="translate(2080,215.54)"><rect width="520" height="13.47" fill="hsl(7.5,50%,60%)"/><text x="3" y="7.74">12100: Health, general, combinations of activities</text></g>
<g id="l12105" class="l" transform="translate(2080,229.02)"><rect width="520" height="13.47" fill="hsl(8,50%,60%)"/><text x="3" y="7.74">12105: Health, general, purpose unspecified or does not f</text></g>
<g id="l12110" class="l" transform="translate(2080,242.49)"><rect width="520" height="13.47" fill="hsl(8.4,50%,60%)"/><text x="3" y="7.74">12110: Health policy and administrative management</text></g>
<g id="l12181" class="l" transform="translate(2080,255.96)"><rect width="520" height="13.47" fill="hsl(8.9,50%,60%)"/><text x="3" y="7.74">12181: Medical education/training</text></g>
<g id="l12182" class="l" transform="translate(2080,269.43)"><rect width="520" height="13.47" fill="hsl(9.3,50%,60%)"/><text x="3" y="7.74">12182: Medical research</text></g>
<g id="l12191" class="l" transform="translate(2080,282.9)"><rect width="520" height="13.47" fill="hsl(9.8,50%,60%)"/><text x="3" y="7.74">12191: Medical services</text></g>
<g id="l12220" class="l" transform="translate(2080,296.37)"><rect width="520" height="13.47" fill="hsl(10.2,50%,60%)"/><text x="3" y="7.74">12220: Basic health care</text></g>
<g id="l12230" class="l" transform="translate(2080,309.84)"><rect width="520" height="13.47" fill="hsl(10.7,50%,60%)"/><text x="3" y="7.74">12230: Basic health infrastructure</text></g>
<g id="l12240" class="l" transform="translate(2080,323.32)"><rect width="520" height="13.47" fill="hsl(11.1,50%,60%)"/><text x="3" y="7.74">12240: Basic nutrition</text></g>
<g id="l12250" class="l" transform="translate(2080,336.79)"><rect width="520" height="13.47" fill="hsl(11.6,50%,60%)"/><text x="3" y="7.74">12250: Infectious &amp; Parasitic disease control</text></g>
<g id="l12261" class="l" transform="translate(2080,350.26)"><rect width="520" height="13.47" fill="hsl(12,50%,60%)"/><text x="3" y="7.74">12261: Health education</text></g>
<g id="l12281" class="l" transform="translate(2080,363.73)"><rect width="520" height="13.47" fill="hsl(12.5,50%,60%)"/><text x="3" y="7.74">12281: Health personnel development</text></g>
<g id="l15100" class="l" transform="translate(2080,619.69)"><rect width="520" height="13.47" fill="hsl(21.1,50%,60%)"/><text x="3" y="7.74">15100: Government and civil society, general, combination</text></g>
<g id="l15105" class="l" transform="translate(2080,633.16)"><rect width="520" height="13.47" fill="hsl(21.6,50%,60%)"/><text x="3" y="7.74">15105: Government and civil society, purpose unspecified</text></g>
<g id="l15110" class="l" transform="translate(2080,646.63)"><rect width="520" height="13.47" fill="hsl(22,50%,60%)"/><text x="3" y="7.74">15110: Economic and development policy/planning</text></g>
<g id="l15120" class="l" transform="translate(2080,660.1)"><rect width="520" height="13.47" fill="hsl(22.5,50%,60%)"/><text x="3" y="7.74">15120: Public sector financial management</text></g>
<g id="l15130" class="l" transform="translate(2080,673.58)"><rect width="520" height="13.47" fill="hsl(23,50%,60%)"/><text x="3" y="7.74">15130: Legal and judicial development</text></g>
<g id="l15140" class="l" transform="translate(2080,687.05)"><rect width="520" height="13.47" fill="hsl(23.4,50%,60%)"/><text x="3" y="7.74">15140: Government administration</text></g>
<g id="l15150" class="l" transform="translate(2080,700.52)"><rect width="520" height="13.47" fill="hsl(23.9,50%,60%)"/><text x="3" y="7.74">15150: Strengthening civil society</text></g>
<g id="l15200" class="l" transform="translate(2080,713.99)"><rect width="520" height="13.47" fill="hsl(24.3,50%,60%)"/><text x="3" y="7.74">15200: Conflict prevention and resolution, peace and secu</text></g>
<g id="l15205" class="l" transform="translate(2080,727.46)"><rect width="520" height="13.47" fill="hsl(24.8,50%,60%)"/><text x="3" y="7.74">15205: Conflict prevention and resolution, peace and secu</text></g>
<g id="l15210" class="l" transform="translate(2080,740.93)"><rect width="520" height="13.47" fill="hsl(25.2,50%,60%)"/><text x="3" y="7.74">15210: Security system management and reform</text></g>
<g id="l15220" class="l" transform="translate(2080,754.4)"><rect width="520" height="13.47" fill="hsl(25.7,50%,60%)"/><text x="3" y="7.74">15220: Civilian peace-building, conflict prevention and r</text></g>
<g id="l15230" class="l" transform="translate(2080,767.88)"><rect width="520" height="13.47" fill="hsl(26.1,50%,60%)"/><text x="3" y="7.74">15230: Post-conflict peace-building (UN)</text></g>
<g id="l15240" class="l" transform="translate(2080,781.35)"><rect width="520" height="13.47" fill="hsl(26.6,50%,60%)"/><text x="3" y="7.74">15240: Reintegration and SALW control</text></g>
<g id="l15250" class="l" transform="translate(2080,794.82)"><rect width="520" height="13.47" fill="hsl(27,50%,60%)"/><text x="3" y="7.74">15250: Land mine clearance</text></g>
<g id="l15261" class="l" transform="translate(2080,808.29)"><rect width="520" height="13.47" fill="hsl(27.5,50%,60%)"/><text x="3" y="7.74">15261: Child soldiers (Prevention and demobilisation)</text></g>
<g id="l16010" class="l" transform="translate(2080,821.76)"><rect width="520" height="13.47" fill="hsl(27.95,50%,60%)"/><text x="3" y="7.74">16010: Social/ welfare services</text></g>
<g id="l16020" class="l" transform="translate(2080,835.23)"><rect width="520" height="13.47" fill="hsl(28.4,50%,60%)"/><text x="3" y="7.74">16020: Employment policy and administrative management</text></g>
<g id="l16030" class="l" transform="translate(2080,848.7)"><rect width="520" height="13.47" fill="hsl(28.9,50%,60%)"/><text x="3" y="7.74">16030: Housing policy and administrative management</text></g>
<g id="l16050" class="l" transform="translate(2080,862.18)"><rect width="520" height="13.47" fill="hsl(29.3,50%,60%)"/><text x="3" y="7.74">16050: Multisector aid for social services</text></g>
<g id="l16081" class="l" transform="translate(2080,875.65)"><rect width="520" height="13.47" fill="hsl(29.8,50%,60%)"/><text x="3" y="7.74">16081: Other social infrastructure and services, educatio</text></g>
<g id="l31100" class="l" transform="translate(2080,1387.56)"><rect width="520" height="13.47" fill="hsl(60.9,50%,60%)"/><text x="3" y="7.74">31100: Agriculture, combinations of purposes in Agricultu</text></g>
<g id="l31105" class="l" transform="translate(2080,1401.04)"><rect width="520" height="13.47" fill="hsl(61.6,50%,60%)"/><text x="3" y="7.74">31105: Agriculture, purpose unspecified or does not fit u</text></g>
<g id="l31110" class="l" transform="translate(2080,1414.51)"><rect width="520" height="13.47" fill="hsl(62.2,50%,60%)"/><text x="3" y="7.74">31110: Agricultural policy and administrative management</text></g>
<g id="l31120" class="l" transform="translate(2080,1427.98)"><rect width="520" height="13.47" fill="hsl(62.8,50%,60%)"/><text x="3" y="7.74">31120: Agricultural development</text></g>
<g id="l31130" class="l" transform="translate(2080,1441.45)"><rect width="520" height="13.47" fill="hsl(63.4,50%,60%)"/><text x="3" y="7.74">31130: Agricultural land resources</text></g>
<g id="l31140" class="l" transform="translate(2080,1454.92)"><rect width="520" height="13.47" fill="hsl(64.1,50%,60%)"/><text x="3" y="7.74">31140: Agricultural water resources</text></g>
<g id="l31150" class="l" transform="translate(2080,1468.39)"><rect width="520" height="13.47" fill="hsl(64.7,50%,60%)"/><text x="3" y="7.74">31150: Agricultural inputs</text></g>
<g id="l31181" class="l" transform="translate(2080,1481.87)"><rect width="520" height="13.47" fill="hsl(65.3,50%,60%)"/><text x="3" y="7.74">31181: Agricultural education/training</text></g>
<g id="l31182" class="l" transform="translate(2080,1495.34)"><rect width="520" height="13.47" fill="hsl(65.9,50%,60%)"/><text x="3" y="7.74">31182: Agricultural research</text></g>
<g id="l31191" class="l" transform="translate(2080,1508.81)"><rect width="520" height="13.47" fill="hsl(66.6,50%,60%)"/><text x="3" y="7.74">31191: Agricultural services, purpose</text></g>
<g id="l31205" class="l" transform="translate(2080,1522.28)"><rect width="520" height="13.47" fill="hsl(67.2,50%,60%)"/><text x="3" y="7.74">31205: Forestry, purpose unspecified or does not fit unde</text></g>
<g id="l31210" class="l" transform="translate(2080,1535.75)"><rect width="520" height="13.47" fill="hsl(67.8,50%,60%)"/><text x="3" y="7.74">31210: Forestry policy and administrative management</text></g>
<g id="l31220" class="l" transform="translate(2080,1549.22)"><rect width="520" height="13.47" fill="hsl(68.4,50%,60%)"/><text x="3" y="7.74">31220: Forestry development</text></g>
<g id="l31281" class="l" transform="translate(2080,1562.69)"><rect width="520" height="13.47" fill="hsl(69.1,50%,60%)"/><text x="3" y="7.74">31281: Forestry education/training</text></g>
<g id="l31282" class="l" transform="translate(2080,1576.17)"><rect width="520" height="13.47" fill="hsl(69.7,50%,60%)"/><text x="3" y="7.74">31282: Forestry research</text></g>
<g id="l31291" class="l" transform="translate(2080,1589.64)"><rect width="520" height="13.47" fill="hsl(70.3,50%,60%)"/><text x="3" y="7.74">31291: Forestry services</text></g>
<g id="l31300" class="l" transform="translate(2080,1603.11)"><rect width="520" height="13.47" fill="hsl(70.9,50%,60%)"/><text x="3" y="7.74">31300: Fishing, combination of activities</text></g>
<g id="l31305" class="l" transform="translate(2080,1616.58)"><rect width="520" height="13.47" fill="hsl(71.6,50%,60%)"/><text x="3" y="7.74">31305: Fishing, purpose unspecified or does not fit under</text></g>
<g id="l31310" class="l" transform="translate(2080,1630.05)"><rect width="520" height="13.47" fill="hsl(72.2,50%,60%)"/><text x="3" y="7.74">31310: Fishing policy and administrative management</text></g>
<g id="l31320" class="l" transform="translate(2080,1643.52)"><rect width="520" height="13.47" fill="hsl(72.8,50%,60%)"/><text x="3" y="7.74">31320: Fishery development</text></g>
<g id="l31330" class="l" transform="translate(2080,1656.99)"><rect width="520" height="13.47" fill="hsl(73.4,50%,60%)"/><text x="3" y="7.74">31330: Fishing Development</text></g>
<g id="l31381" class="l" transform="translate(2080,1670.47)"><rect width="520" height="13.47" fill="hsl(74.1,50%,60%)"/><text x="3" y="7.74">31381: Fishery education/training</text></g>
<g id="l31382" class="l" transform="translate(2080,1683.94)"><rect width="520" height="13.47" fill="hsl(74.7,50%,60%)"/><text x="3" y="7.74">31382: Fishery research</text></g>
<g id="l31391" class="l" transform="translate(2080,1697.41)"><rect width="520" height="13.47" fill="hsl(75.3,50%,60%)"/><text x="3" y="7.74">31391: Fishery services</text></g>
<g id="l32105" class="l" transform="translate(2080,1724.35)"><rect width="520" height="13.47" fill="hsl(76.6,50%,60%)"/><text x="3" y="7.74">32105: Industry, purpose unspecified (includes manufactur</text></g>
<g id="l32110" class="l" transform="translate(2080,1737.82)"><rect width="520" height="13.47" fill="hsl(77.2,50%,60%)"/><text x="3" y="7.74">32110: Industrial policy and administrative management</text></g>
<g id="l32120" class="l" transform="translate(2080,1751.3)"><rect width="520" height="13.47" fill="hsl(77.8,50%,60%)"/><text x="3" y="7.74">32120: Industrial development</text></g>
<g id="l32130" class="l" transform="translate(2080,1764.77)"><rect width="520" height="13.47" fill="hsl(78.4,50%,60%)"/><text x="3" y="7.74">32130: Small and medium-sized enterprises (SME) developme</text></g>
<g id="l32140" class="l" transform="translate(2080,1778.24)"><rect width="520" height="13.47" fill="hsl(79.1,50%,60%)"/><text x="3" y="7.74">32140: Cottage industries and handicraft</text></g>
<g id="l32181" class="l" transform="translate(2080,1791.71)"><rect width="520" height="13.47" fill="hsl(79.7,50%,60%)"/><text x="3" y="7.74">32181: Industry education and training</text></g>
<g id="l32182" class="l" transform="translate(2080,1805.18)"><rect width="520" height="13.47" fill="hsl(80.3,50%,60%)"/><text x="3" y="7.74">32182: Technological research and development</text></g>
<g id="l32191" class="l" transform="translate(2080,1818.65)"><rect width="520" height="13.47" fill="hsl(80.9,50%,60%)"/><text x="3" y="7.74">32191: Industry services</text></g>
<g id="l32200" class="l" transform="translate(2080,1832.12)"><rect width="520" height="13.47" fill="hsl(81.6,50%,60%)"/><text x="3" y="7.74">32200: Mineral resources and mining, combination of purpo</text></g>
<g id="l32205" class="l" transform="translate(2080,1845.6)"><rect width="520" height="13.47" fill="hsl(82.2,50%,60%)"/><text x="3" y="7.74">32205: Mineral resources and mining, purpose unspecified</text></g>
<g id="l32210" class="l" transform="translate(2080,1859.07)"><rect width="520" height="13.47" fill="hsl(82.8,50%,60%)"/><text x="3" y="7.74">32210: Mineral/mining policy and administrative managemen</text></g>
<g id="l32220" class="l" transform="translate(2080,1872.54)"><rect width="520" height="13.47" fill="hsl(83.4,50%,60%)"/><text x="3" y="7.74">32220: Mineral/Metal prospection and exploration</text></g>
<g id="l32281" class="l" transform="translate(2080,1886.01)"><rect width="520" height="13.47" fill="hsl(84.1,50%,60%)"/><text x="3" y="7.74">32281: Mining Education / Training</text></g>
<g id="l32310" class="l" transform="translate(2080,1899.48)"><rect width="520" height="13.47" fill="hsl(84.7,50%,60%)"/><text x="3" y="7.74">32310: Construction policy and administrative management</text></g>
<g id="l33100" class="l" transform="translate(2080,1912.95)"><rect width="520" height="13.47" fill="hsl(85.3,50%,60%)"/><text x="3" y="7.74">33100: Trade policy and regulations, combination of purpo</text></g>
<g id="l33105" class="l" transform="translate(2080,1926.42)"><rect width="520" height="13.47" fill="hsl(85.9,50%,60%)"/><text x="3" y="7.74">33105: Trade policy and regulations, purpose unspecified</text></g>
<g id="l33110" class="l" transform="translate(2080,1939.9)"><rect width="520" height="13.47" fill="hsl(86.6,50%,60%)"/><text x="3" y="7.74">33110: Trade policy and administrative management</text></g>
<g id="l33120" class="l" transform="translate(2080,1953.37)"><rect width="520" height="13.47" fill="hsl(87.2,50%,60%)"/><text x="3" y="7.74">33120: Trade facilitation</text></g>
<g id="l33130" class="l" transform="translate(2080,1966.84)"><rect width="520" height="13.47" fill="hsl(87.8,50%,60%)"/><text x="3" y="7.74">33130: Regional trade agreements (RTAs)</text></g>
<g id="l33140" class="l" transform="translate(2080,1980.31)"><rect width="520" height="13.47" fill="hsl(88.4,50%,60%)"/><text x="3" y="7.74">33140: Multilateral trade negotiations</text></g>
<g id="l33181" class="l" transform="translate(2080,1993.78)"><rect width="520" height="13.47" fill="hsl(89.1,50%,60%)"/><text x="3" y="7.74">33181: Trade education/training</text></g>
<g id="l33210" class="l" transform="translate(2080,2007.25)"><rect width="520" height="13.47" fill="hsl(89.7,50%,60%)"/><text x="3" y="7.74">33210: Tourism policy and administrative management</text></g>
</g>
</svg>
